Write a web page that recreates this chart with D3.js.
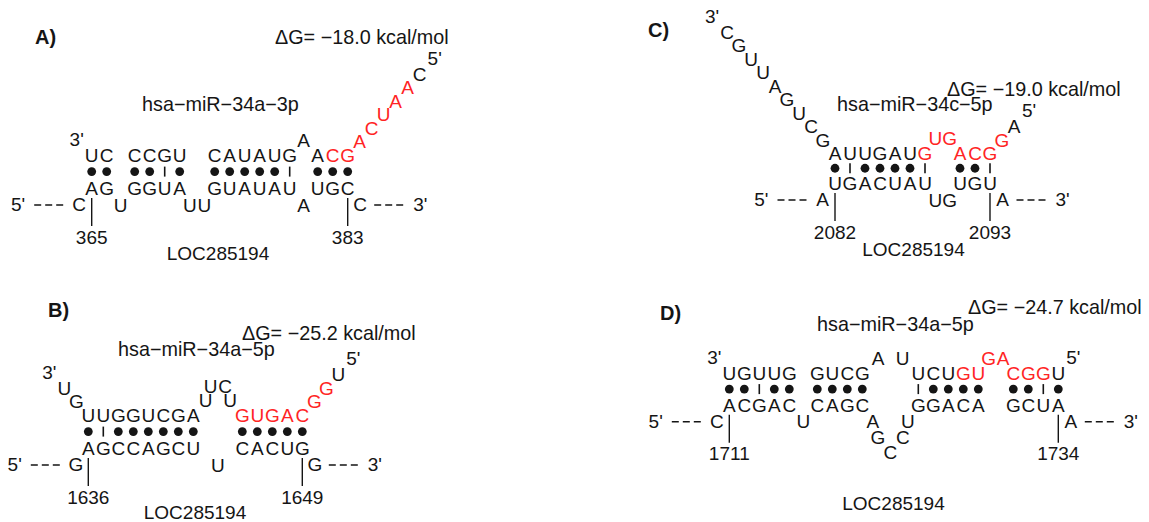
<!DOCTYPE html>
<html>
<head>
<meta charset="utf-8">
<script src="https://cdn.jsdelivr.net/npm/d3@7"></script>
<style>
  body { margin: 0; background: #fff; }
  text { font-family: "Liberation Sans", Arial, sans-serif; }
</style>
</head>
<body>
<div class="canvas"></div>
<script>
// miRNA strand as drawn, left to right (3' -> 5'): tail, stem, loop, stem, ..., stem, tail
const mirA = ["", "UC", "", "CCGU", "", "CAUAUG", "A", "ACG", "ACUAAC"]
const mirB = ["UG", "UUGGUCGA", "UUCU", "GUGAC", "GGU"]
const mirC = ["CGUUAGUCG", "AUUGAUG", "UG", "ACG", "GA"]
const mirD = ["", "UGUUG", "", "GUCG", "AU", "UCUGU", "GA", "CGGU", ""]

// target strand, left to right (5' -> 3'): flank, stem, loop, stem, ..., stem, flank
const targetA = ["C", "AG", "U", "GGUA", "UU", "GUAUAU", "A", "UGC", "C"]
const targetB = ["G", "AGCCAGCU", "U", "CACUG", "G"]
const targetC = ["A", "UGACUAU", "UG", "UGU", "A"]
const targetD = ["C", "ACGAC", "U", "CAGC", "AGCCU", "GGACA", "", "GCUA", "A"]

const mirNames = ["hsa−miR−34a−3p", "hsa−miR−34a−5p", "hsa−miR−34c−5p", "hsa−miR−34a−5p"]
const deltaG = [-18.0, -25.2, -19.0, -24.7]
const sitePositions = [[365, 383], [1636, 1649], [2082, 2093], [1711, 1734]]
const panelLabels = ["A)", "B)", "C)", "D)"]
const geneName = "LOC285194"
const seedRange = [2, 8]   // seed nucleotides, counted from the miRNA 5' end

const mirs = [mirA, mirB, mirC, mirD]
const targets = [targetA, targetB, targetC, targetD]

// where each panel sits on the page
const layout = [
  { x0: 91.7,  yTop: 161.7, yBot: 195,   label: [35, 44],   dg: [275, 44],   name: [142, 111],   loc: [218, 260] },
  { x0: 88.3,  yTop: 421.7, yBot: 455,   label: [48, 317],  dg: [242, 340],  name: [118, 355.5], loc: [195, 519] },
  { x0: 835,   yTop: 160,   yBot: 190,   label: [648, 37],  dg: [947, 95.5], name: [837, 110.5], loc: [913.5, 256] },
  { x0: 729.3, yTop: 380,   yBot: 411.7, label: [660, 320], dg: [968, 314],  name: [817, 330.5], loc: [893.5, 510] }
]

const colW = 15
const fontSize = 19
const captionSize = 19.8
const black = '#151515'
const red = '#ff2424'

const svg = d3.select('.canvas')
  .append('svg')
    .attr('width', 1149)
    .attr('height', 522)

// distance between the two paired bases on each side of a loop of n letters
const loopSpan = n => 21 + 7 * n

function loopOffsets(n) {
  const lev = d3.range(n).map(i => 1 + Math.min(i, n - 1 - i))
  const off = [0]
  for (let i = 1; i < n; i++) {
    let step = 14.5
    if (lev[i] !== lev[i - 1]) step = Math.min(lev[i], lev[i - 1]) === 1 ? 5 : 12.5
    off.push(off[i - 1] + step)
  }
  return { lev, off }
}

function isWatsonCrick(a, b) {
  return ['AU', 'UA', 'GC', 'CG'].includes(a + b)
}

function drawPanel(p) {
  const mir = mirs[p]
  const target = targets[p]
  const L = layout[p]
  const g = svg.append('g')

  const x = d3.scaleLinear().domain([0, 1]).range([L.x0, L.x0 + colW])

  const mirLen = mir.join('').length
  const segStart = []
  mir.reduce((acc, s, i) => { segStart[i] = acc; return acc + s.length }, 0)
  const isSeed = j => {
    const fromFive = mirLen - j
    return fromFive >= seedRange[0] && fromFive <= seedRange[1]
  }

  // paired columns and loops
  const paired = []
  const loops = []
  let u = 0
  for (let s = 1; s < mir.length - 1; s++) {
    if (s % 2 === 1) {
      ;[...mir[s]].forEach((c, k) => {
        if (paired.length) {
          if (k === 0) {
            const lp = loops[loops.length - 1]
            u += loopSpan(Math.max(lp.top.length, lp.bot.length)) / colW
          } else u += 1
        }
        paired.push({ u, top: c, bot: target[s][k], j: segStart[s] + k })
      })
    } else {
      loops.push({ top: mir[s], bot: target[s], after: paired.length - 1, start: segStart[s] })
    }
  }

  const letters = []
  const xFirst = x(paired[0].u)
  const xLast = x(paired[paired.length - 1].u)

  paired.forEach(d => {
    letters.push({ ch: d.top, x: x(d.u), y: L.yTop, red: isSeed(d.j) })
    letters.push({ ch: d.bot, x: x(d.u), y: L.yBot, red: false })
  })

  loops.forEach(lp => {
    const cx = (x(paired[lp.after].u) + x(paired[lp.after + 1].u)) / 2
    const sides = [
      { str: lp.top, other: lp.bot.length, top: true },
      { str: lp.bot, other: lp.top.length, top: false }
    ]
    sides.forEach(sd => {
      const n = sd.str.length
      if (!n) return
      const { lev, off } = loopOffsets(n)
      if (n === 2 && sd.other > n) {
        const wide = loopOffsets(sd.other).off
        off[1] = 0.7 * wide[wide.length - 1]
      }
      const span = off[n - 1]
      ;[...sd.str].forEach((c, i) => {
        letters.push({
          ch: c,
          x: cx + off[i] - span / 2,
          y: sd.top ? L.yTop - 15 - 13.5 * (lev[i] - 1) : L.yBot + 16.5 + 15.5 * (lev[i] - 1),
          red: sd.top ? isSeed(lp.start + i) : false
        })
      })
    })
  })

  // dangling miRNA ends
  const leftTail = mir[0]
  ;[...leftTail].forEach((c, k) => {
    const step = leftTail.length - k
    letters.push({ ch: c, x: xFirst - 12 * step, y: L.yTop - 13.5 * step, red: isSeed(k) })
  })
  const rightTail = mir[mir.length - 1]
  const rStart = segStart[mir.length - 1]
  ;[...rightTail].forEach((c, k) => {
    const step = k + 1
    letters.push({ ch: c, x: xLast + 12 * step, y: L.yTop - 13.5 * step, red: isSeed(rStart + k) })
  })

  const labels = [
    { t: "3'", x: xFirst - 12 * leftTail.length - 15, y: L.yTop - 13.5 * leftTail.length - 16, a: 'middle' },
    { t: "5'", x: xLast + 12 * rightTail.length + 15, y: L.yTop - 13.5 * rightTail.length - 16, a: 'middle' }
  ]

  // target flanks
  const yFlank = L.yBot + 16
  const fL = xFirst - 12.5
  const fR = xLast + 12.5
  letters.push({ ch: target[0], x: fL, y: yFlank, red: false })
  letters.push({ ch: target[target.length - 1], x: fR, y: yFlank, red: false })
  labels.push({ t: "5'", x: fL - 54, y: yFlank, a: 'end' })
  labels.push({ t: "3'", x: fR + 53, y: yFlank, a: 'start' })

  g.selectAll('line.dash')
    .data([[fL - 45, fL - 16], [fR + 14, fR + 44]])
    .join('line')
      .attr('class', 'dash')
      .attr('x1', d => d[0])
      .attr('x2', d => d[1])
      .attr('y1', yFlank - 6)
      .attr('y2', yFlank - 6)
      .attr('stroke', black)
      .attr('stroke-width', 1.6)
      .attr('stroke-dasharray', '7,4')

  g.selectAll('text.nt')
    .data(letters)
    .join('text')
      .attr('class', 'nt')
      .attr('x', d => d.x)
      .attr('y', d => d.y)
      .attr('text-anchor', 'middle')
      .attr('font-size', fontSize)
      .attr('fill', d => d.red ? red : black)
      .text(d => d.ch)

  g.selectAll('text.end')
    .data(labels)
    .join('text')
      .attr('class', 'end')
      .attr('x', d => d.x)
      .attr('y', d => d.y)
      .attr('text-anchor', d => d.a)
      .attr('font-size', fontSize)
      .attr('fill', black)
      .text(d => d.t)

  // base pairs
  const yBond = (L.yTop + L.yBot - 13.5) / 2
  const bonds = paired.map(d => ({ x: x(d.u), wc: isWatsonCrick(d.top, d.bot) }))
  g.selectAll('circle.bond')
    .data(bonds.filter(d => d.wc))
    .join('circle')
      .attr('class', 'bond')
      .attr('cx', d => d.x)
      .attr('cy', yBond)
      .attr('r', 4.4)
      .attr('fill', black)
  g.selectAll('line.wobble')
    .data(bonds.filter(d => !d.wc))
    .join('line')
      .attr('class', 'wobble')
      .attr('x1', d => d.x)
      .attr('x2', d => d.x)
      .attr('y1', yBond - 5)
      .attr('y2', yBond + 5)
      .attr('stroke', black)
      .attr('stroke-width', 1.6)

  // site position ticks
  const ticks = sitePositions[p].map((v, i) => ({ v, x: i === 0 ? xFirst : xLast }))
  g.selectAll('line.tick')
    .data(ticks)
    .join('line')
      .attr('class', 'tick')
      .attr('x1', d => d.x)
      .attr('x2', d => d.x)
      .attr('y1', L.yBot + 3)
      .attr('y2', L.yBot + 31)
      .attr('stroke', black)
      .attr('stroke-width', 1.4)
  g.selectAll('text.tick')
    .data(ticks)
    .join('text')
      .attr('class', 'tick')
      .attr('x', d => d.x)
      .attr('y', L.yBot + 48.5)
      .attr('text-anchor', 'middle')
      .attr('font-size', fontSize)
      .attr('fill', black)
      .text(d => d.v)

  // captions
  g.append('text')
    .attr('x', L.label[0]).attr('y', L.label[1])
    .attr('font-size', 20).attr('font-weight', 'bold').attr('fill', black)
    .text(panelLabels[p])
  g.append('text')
    .attr('x', L.dg[0]).attr('y', L.dg[1])
    .attr('font-size', captionSize).attr('fill', black)
    .text(`ΔG= −${Math.abs(deltaG[p]).toFixed(1)} kcal/mol`)
  g.append('text')
    .attr('x', L.name[0]).attr('y', L.name[1])
    .attr('font-size', captionSize).attr('fill', black)
    .text(mirNames[p])
  g.append('text')
    .attr('x', L.loc[0]).attr('y', L.loc[1])
    .attr('text-anchor', 'middle')
    .attr('font-size', fontSize).attr('fill', black)
    .text(geneName)
}

d3.range(4).forEach(drawPanel)
</script>
</body>
</html>
